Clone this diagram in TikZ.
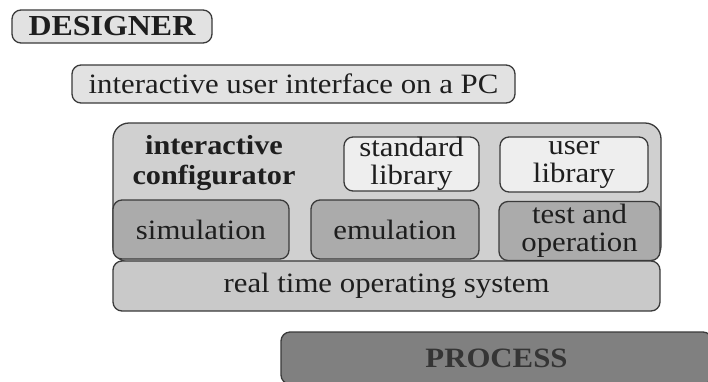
\documentclass[tikz,border=0pt]{standalone}
\usepackage{fontspec}
\setmainfont{Liberation Serif}[FakeStretch=1.1]
\definecolor{edge}{HTML}{3A3A3A}
\definecolor{ink}{HTML}{1E1E1E}
\definecolor{fillA}{HTML}{E2E2E2}
\definecolor{fillB}{HTML}{D0D0D0}
\definecolor{fillC}{HTML}{EEEEEE}
\definecolor{fillD}{HTML}{ABABAB}
\definecolor{fillE}{HTML}{C9C9C9}
\definecolor{fillF}{HTML}{808080}
\tikzset{
  layer/.style={draw=edge, line width=1.3pt, rounded corners=9pt, inner sep=0pt,
    align=center, text=ink, font=\fontsize{28}{28}\selectfont},
}
\begin{document}
\begin{tikzpicture}[x=1pt,y=-1pt]
\useasboundingbox[fill=white] (0,0) rectangle (708,381);
% DESIGNER
\node[layer, fill=fillA, minimum width=200pt, minimum height=33pt,
      font=\fontsize{29}{30}\selectfont\bfseries] (designer) at (112,26.5) {DESIGNER};
% user interface
\node[layer, fill=fillA, minimum width=443pt, minimum height=38pt] (ui) at (293.5,84) {interactive user interface on a PC};
% main configurator box
\node[layer, fill=fillB, rounded corners=16pt, minimum width=548pt, minimum height=139pt] (conf) at (387,192.5) {};
\node[text=ink, align=center, inner sep=0pt, font=\fontsize{27.5}{30}\selectfont\bfseries] (conftxt) at (214,163) {interactive\\configurator};
\node[layer, fill=fillC, minimum width=135pt, minimum height=54pt] (stdlib) at (411.5,164) {standard\\library};
\node[layer, fill=fillC, minimum width=148pt, minimum height=55pt] (usrlib) at (574,164.5) {user\\library};
% middle row
\node[layer, fill=fillD, minimum width=176pt, minimum height=59pt] (sim) at (201,229.5) {simulation};
\node[layer, fill=fillD, minimum width=168pt, minimum height=59pt] (emu) at (395,229.5) {emulation};
\node[layer, fill=fillD, minimum width=161pt, minimum height=59pt] (test) at (579.5,231) {test and\\operation};
% RTOS
\node[layer, fill=fillE, minimum width=547pt, minimum height=50pt] (rtos) at (386.5,286) {real time operating system};
% PROCESS
\node[layer, fill=fillF, minimum width=431pt, minimum height=52pt, text=ink!90,
      font=\fontsize{28}{30}\selectfont\bfseries] (process) at (496.5,358) {PROCESS};
\end{tikzpicture}
\end{document}
